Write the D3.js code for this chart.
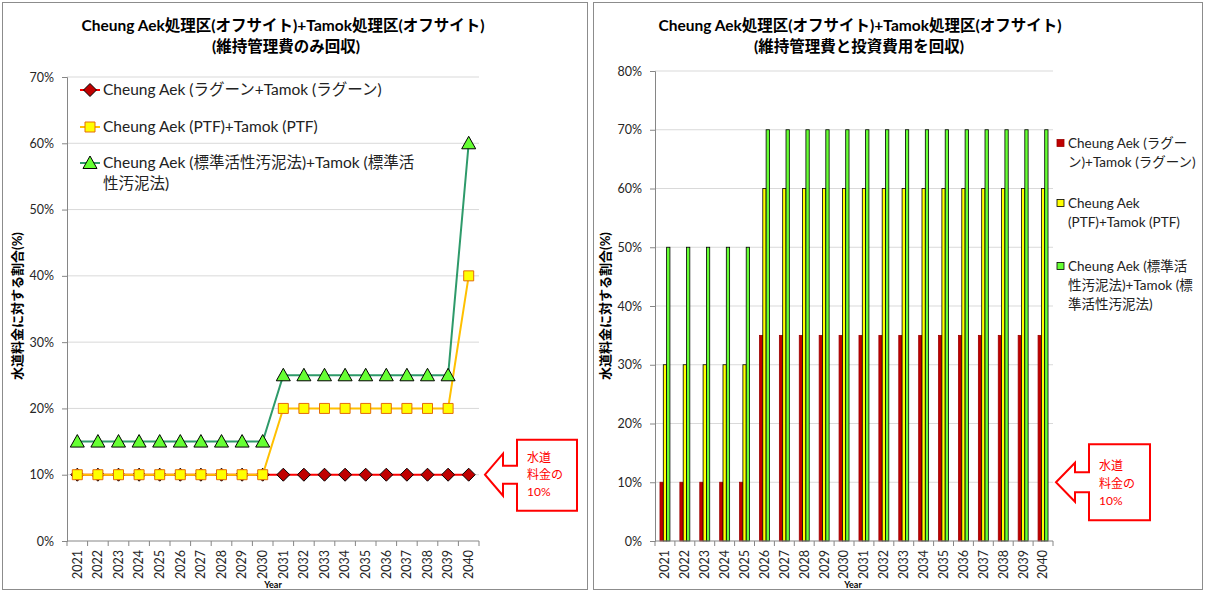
<!DOCTYPE html>
<html>
<head>
<meta charset="utf-8">
<title>Cheung Aek + Tamok</title>
<script src="https://d3js.org/d3.v7.min.js"></script>
<style>
body { margin: 0; background: #fff; font-family: Lato, "Noto Sans CJK JP", sans-serif; }
.grid line { stroke: #d9d9d9; stroke-width: 1px; }
.axis path, .axis line { stroke: #868686; }
.axis text { fill: #262626; font-size: 12px; font-family: Lato, "Noto Sans CJK JP", sans-serif; }
.title { font-weight: bold; font-size: 15.5px; fill: #000; }
.ylab { font-weight: bold; font-size: 13px; }
.legend text { font-size: 15.5px; fill: #222; }
</style>
</head>
<body>
<svg id="chart" width="1205" height="593"></svg>
<script>
// categories
var years = ["2021","2022","2023","2024","2025","2026","2027","2028","2029","2030",
             "2031","2032","2033","2034","2035","2036","2037","2038","2039","2040"];

// left chart: O&M cost only
var lagoonOM = [0.10,0.10,0.10,0.10,0.10,0.10,0.10,0.10,0.10,0.10,
                0.10,0.10,0.10,0.10,0.10,0.10,0.10,0.10,0.10,0.10];
var ptfOM    = [0.10,0.10,0.10,0.10,0.10,0.10,0.10,0.10,0.10,0.10,
                0.20,0.20,0.20,0.20,0.20,0.20,0.20,0.20,0.20,0.40];
var aslOM    = [0.15,0.15,0.15,0.15,0.15,0.15,0.15,0.15,0.15,0.15,
                0.25,0.25,0.25,0.25,0.25,0.25,0.25,0.25,0.25,0.60];

// right chart: O&M + investment
var lagoonAll = [0.10,0.10,0.10,0.10,0.10,0.35,0.35,0.35,0.35,0.35,
                 0.35,0.35,0.35,0.35,0.35,0.35,0.35,0.35,0.35,0.35];
var ptfAll    = [0.30,0.30,0.30,0.30,0.30,0.60,0.60,0.60,0.60,0.60,
                 0.60,0.60,0.60,0.60,0.60,0.60,0.60,0.60,0.60,0.60];
var aslAll    = [0.50,0.50,0.50,0.50,0.50,0.70,0.70,0.70,0.70,0.70,
                 0.70,0.70,0.70,0.70,0.70,0.70,0.70,0.70,0.70,0.70];

var yTicksLeft  = [0,0.1,0.2,0.3,0.4,0.5,0.6,0.7];
var yTicksRight = [0,0.1,0.2,0.3,0.4,0.5,0.6,0.7,0.8];

var seriesNames = ["Cheung Aek (ラグーン+Tamok (ラグーン)",
                   "Cheung Aek (PTF)+Tamok (PTF)",
                   "Cheung Aek (標準活性汚泥法)+Tamok (標準活性汚泥法)"];
var yLabel = "水道料金に対する割合(%)";
var noteLines = ["水道", "料金の", "10%"];

var svg = d3.select("#chart");
var pct = d3.format(".0%");

// panel borders
svg.append("rect").attr("x", 2.5).attr("y", 2.5).attr("width", 585).attr("height", 587)
  .attr("fill", "none").attr("stroke", "#8c8c8c");
svg.append("rect").attr("x", 593.5).attr("y", 2.5).attr("width", 609).attr("height", 587)
  .attr("fill", "none").attr("stroke", "#8c8c8c");

function callout(g, tx, ty, o) {
  var pts = [[tx, ty], [tx + o.hx, ty - o.hh], [tx + o.hx, ty - o.sh], [tx + o.bx0, ty - o.sh],
             [tx + o.bx0, ty - o.by0], [tx + o.bx1, ty - o.by0], [tx + o.bx1, ty + o.by1],
             [tx + o.bx0, ty + o.by1], [tx + o.bx0, ty + o.sh], [tx + o.hx, ty + o.sh],
             [tx + o.hx, ty + o.hh]];
  g.append("polygon").attr("points", pts.map(function(p){ return p.join(","); }).join(" "))
    .attr("fill", "#fff").attr("stroke", "#ff0000").attr("stroke-width", 2);
  g.selectAll("text.note").data(noteLines).enter().append("text")
    .attr("class", "note")
    .attr("x", tx + o.bx0 + 10)
    .attr("y", function(d, i){ return ty + o.ly0 + i * o.ldy; })
    .attr("dy", "0.35em")
    .attr("fill", "#ff0000").style("font-size", "12px")
    .text(function(d){ return d; });
}

function xAxisBits(g, x, y0, ylabelX, yearX) {
  // tick marks between categories
  var edges = years.map(function(d){ return x(d); }).concat([x.range()[1]]);
  g.selectAll("line.xt").data(edges).enter().append("line")
    .attr("x1", function(d){ return d; }).attr("x2", function(d){ return d; })
    .attr("y1", y0).attr("y2", y0 + 5).attr("stroke", "#868686");
  g.append("line").attr("x1", x.range()[0]).attr("x2", x.range()[1])
    .attr("y1", y0).attr("y2", y0).attr("stroke", "#868686");
  g.selectAll("text.xl").data(years).enter().append("text")
    .attr("class", "xl")
    .attr("transform", function(d){ return "translate(" + (x(d) + x.bandwidth() / 2) + "," + (y0 + 9) + ") rotate(-90)"; })
    .attr("text-anchor", "end").attr("dy", "0.35em")
    .style("font-size", "12.5px").attr("fill", "#262626")
    .text(function(d){ return d; });
  g.append("text").attr("x", yearX).attr("y", 588).attr("text-anchor", "middle")
    .style("font-size", "9px").style("font-weight", "bold").text("Year");
}

function yAxisBits(g, y, ticks, x0, x1) {
  g.append("g").attr("class", "grid").selectAll("line").data(ticks.slice(1)).enter().append("line")
    .attr("x1", x0).attr("x2", x1)
    .attr("y1", function(d){ return y(d); }).attr("y2", function(d){ return y(d); });
  g.append("g").attr("class", "axis").attr("transform", "translate(" + x0 + ",0)")
    .call(d3.axisLeft(y).tickValues(ticks).tickFormat(pct).tickSize(5).tickPadding(8))
    .call(function(a){ a.selectAll("text").style("font-size", "12.5px"); });
}

// ---------- left chart ----------
(function() {
  var g = svg.append("g");
  var x = d3.scaleBand().domain(years).range([67, 479]);
  var y = d3.scaleLinear().domain([0, 0.7]).range([541, 77]);
  var bw = x.bandwidth();

  g.append("text").attr("class", "title").attr("x", 283).attr("y", 31).attr("text-anchor", "middle")
    .text("Cheung Aek処理区(オフサイト)+Tamok処理区(オフサイト)");
  g.append("text").attr("class", "title").attr("x", 286).attr("y", 52).attr("text-anchor", "middle")
    .text("(維持管理費のみ回収)");

  yAxisBits(g, y, yTicksLeft, 67, 479);
  xAxisBits(g, x, 541, 17, 273);

  g.append("text").attr("class", "ylab")
    .attr("transform", "translate(17,306) rotate(-90)").attr("text-anchor", "middle")
    .attr("dy", "0.35em").text(yLabel);

  var series = [
    { vals: lagoonOM, line: "#ff0000", fill: "#c00000", stroke: "#000", shape: "diamond" },
    { vals: ptfOM,    line: "#ffc000", fill: "#ffff00", stroke: "#e46c0a", shape: "square" },
    { vals: aslOM,    line: "#2e9a6a", fill: "#66ff33", stroke: "#000", shape: "triangle" }
  ];
  var shapes = {
    diamond: "M0,-6.5L6.5,0L0,6.5L-6.5,0Z",
    square: "M-5,-5H5V5H-5Z",
    triangle: "M0,-7L7,5.5H-7Z"
  };
  var line = d3.line()
    .x(function(d, i){ return x(years[i]) + bw / 2; })
    .y(function(d){ return y(d); });

  series.forEach(function(s) {
    g.append("path").datum(s.vals).attr("d", line)
      .attr("fill", "none").attr("stroke", s.line).attr("stroke-width", 2);
    g.selectAll(null).data(s.vals).enter().append("path")
      .attr("d", shapes[s.shape])
      .attr("transform", function(d, i){ return "translate(" + (x(years[i]) + bw / 2) + "," + y(d) + ")"; })
      .attr("fill", s.fill).attr("stroke", s.stroke).attr("stroke-width", 1);
  });

  // legend
  var lg = g.append("g").attr("class", "legend");
  var rows = [[seriesNames[0]], [seriesNames[1]],
              ["Cheung Aek (標準活性汚泥法)+Tamok (標準活", "性汚泥法)"]];
  var ly = [90, 127, 163];
  series.forEach(function(s, i) {
    lg.append("line").attr("x1", 80).attr("x2", 100).attr("y1", ly[i]).attr("y2", ly[i])
      .attr("stroke", s.line).attr("stroke-width", 2);
    lg.append("path").attr("d", shapes[s.shape]).attr("transform", "translate(90," + ly[i] + ")")
      .attr("fill", s.fill).attr("stroke", s.stroke);
    rows[i].forEach(function(t, j) {
      lg.append("text").attr("x", 103).attr("y", ly[i] + j * 21).attr("dy", "0.35em").text(t);
    });
  });

  callout(g, x.range()[1] + 6, y(0.1), { hx: 18, hh: 21, sh: 9, bx0: 32, bx1: 92, by0: 35, by1: 36, ly0: -17, ldy: 17 });
})();

// ---------- right chart ----------
(function() {
  var g = svg.append("g");
  var x = d3.scaleBand().domain(years).range([655, 1053]);
  var y = d3.scaleLinear().domain([0, 0.8]).range([541, 71]);
  var bw = x.bandwidth();
  var keys = ["lagoon", "ptf", "asl"];
  var x1 = d3.scaleBand().domain(keys).range([bw / 4, bw * 3 / 4]);
  var cols = { lagoon: "#c00000", ptf: "#ffff00", asl: "#66ff33" };
  var strokes = { lagoon: "#9a0000", ptf: "#000", asl: "#000" };
  var vals = { lagoon: lagoonAll, ptf: ptfAll, asl: aslAll };

  g.append("text").attr("class", "title").attr("x", 860).attr("y", 31).attr("text-anchor", "middle")
    .text("Cheung Aek処理区(オフサイト)+Tamok処理区(オフサイト)");
  g.append("text").attr("class", "title").attr("x", 859).attr("y", 52).attr("text-anchor", "middle")
    .text("(維持管理費と投資費用を回収)");

  yAxisBits(g, y, yTicksRight, 655, 1053);

  keys.forEach(function(k) {
    g.selectAll(null).data(vals[k]).enter().append("rect")
      .attr("x", function(d, i){ return x(years[i]) + x1(k); })
      .attr("width", x1.bandwidth())
      .attr("y", function(d){ return y(d); })
      .attr("height", function(d){ return y(0) - y(d); })
      .attr("fill", cols[k]).attr("stroke", strokes[k]).attr("stroke-width", 0.8);
  });

  xAxisBits(g, x, 541, 605, 853);

  g.append("text").attr("class", "ylab")
    .attr("transform", "translate(605,306) rotate(-90)").attr("text-anchor", "middle")
    .attr("dy", "0.35em").text(yLabel);

  // legend
  var lg = g.append("g").attr("class", "legend");
  var rows = [["Cheung Aek (ラグー", "ン)+Tamok (ラグーン)"],
              ["Cheung Aek", "(PTF)+Tamok (PTF)"],
              ["Cheung Aek (標準活", "性汚泥法)+Tamok (標", "準活性汚泥法)"]];
  var ly = [143, 203, 266];
  keys.forEach(function(k, i) {
    lg.append("rect").attr("x", 1057).attr("y", ly[i] - 3.5).attr("width", 7).attr("height", 7)
      .attr("fill", cols[k]).attr("stroke", strokes[k]).attr("stroke-width", 0.8);
    rows[i].forEach(function(t, j) {
      lg.append("text").attr("x", 1068).attr("y", ly[i] + j * 19).attr("dy", "0.35em")
        .style("font-size", "13.5px").text(t);
    });
  });

  callout(g, x.range()[1] + 3, y(0.1), { hx: 19, hh: 19.5, sh: 10, bx0: 33, bx1: 94, by0: 38, by1: 38, ly0: -16, ldy: 17.5 });
})();
</script>
</body>
</html>
